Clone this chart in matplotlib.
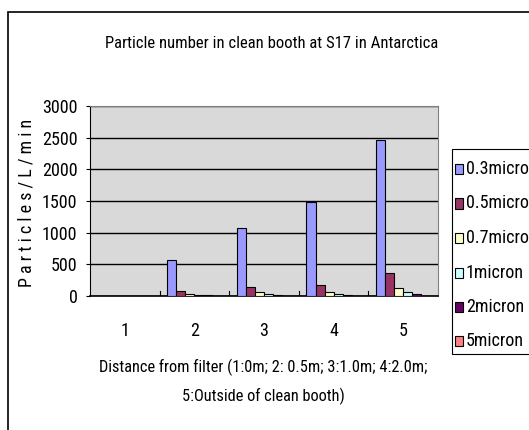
import matplotlib
matplotlib.use("Agg")
import matplotlib.pyplot as plt
import numpy as np
from matplotlib.patches import Rectangle
from matplotlib import font_manager

names = {f.name for f in font_manager.fontManager.ttflist}
FONT = 'DejaVu Sans'
for cand in ['Liberation Sans Narrow', 'Arial Narrow', 'Roboto Condensed', 'Archivo Narrow',
             'Barlow Condensed']:
    if cand in names:
        FONT = cand
        break
plt.rcParams['font.family'] = [FONT, 'DejaVu Sans']

categories = ['1', '2', '3', '4', '5']
series_names = ['0.3micron', '0.5micron', '0.7micron', '1micron', '2micron', '5micron']
v03 = [0, 570, 1080, 1490, 2460]
v05 = [0, 80, 150, 170, 360]
v07 = [0, 30, 60, 60, 120]
v1 = [0, 15, 30, 30, 60]
v2 = [0, 8, 12, 12, 30]
v5 = [0, 2, 3, 3, 5]
series = [v03, v05, v07, v1, v2, v5]
colors = ['#9999FF', '#993366', '#FFFFCC', '#CCFFFF', '#660066', '#FF8080']
yticks = [0, 500, 1000, 1500, 2000, 2500, 3000]

fig = plt.figure(figsize=(5.29, 4.30), dpi=100)
# chart border
fig.patches.append(Rectangle((8/529, -0.1), 1.2, 1 - 12/430 + 0.1, transform=fig.transFigure,
                             fill=False, edgecolor='black', linewidth=1.2))

ax = fig.add_axes([90/529, 1 - 296/430, 348/529, 190/430])
ax.set_facecolor('#D9D9D9')
x = np.arange(len(categories))
n = len(series)
gw = 0.78
w = gw / n
for i, (vals, c, nm) in enumerate(zip(series, colors, series_names)):
    ax.bar(x - gw / 2 + w * (i + 0.5), vals, width=w, color=c, edgecolor='black',
           linewidth=0.8, label=nm, zorder=3)

ax.set_xlim(-0.5, 4.5)
ax.set_ylim(0, 3000)
ax.set_yticks(yticks)
ax.set_yticklabels([str(t) for t in yticks], fontsize=13)
ax.yaxis.grid(True, color='black', linewidth=1.0, zorder=1)
ax.set_axisbelow(True)
ax.set_xticks(x)
ax.set_xticklabels(categories, fontsize=13)
ax.tick_params(axis='x', length=0, pad=19)
ax.tick_params(axis='y', length=3, direction='out', pad=6)
# category separator ticks
for b in np.arange(0.5, 4.5, 1.0):
    ax.plot([b, b], [0, 80], color='black', linewidth=0.8, zorder=2)
for s in ['top', 'right']:
    ax.spines[s].set_color('#808080')
ax.spines['left'].set_color('black')
ax.spines['bottom'].set_color('black')
ax.spines['bottom'].set_linewidth(1.2)

fig.text(272/529, 1 - 44/430, 'Particle number in clean booth at S17 in Antarctica',
         ha='center', va='center', fontsize=12)
fig.text(27/529, 1 - 203/430, 'P a r t i c l e s / L / m i n', rotation=90,
         ha='center', va='center', fontsize=13)
fig.text(263/529, 1 - 367/430, 'Distance from filter (1:0m; 2: 0.5m; 3:1.0m; 4:2.0m;',
         ha='center', va='center', fontsize=11.8)
fig.text(263/529, 1 - 396/430, '5:Outside of clean booth)',
         ha='center', va='center', fontsize=11.8)

# legend box
fig.patches.append(Rectangle((452/529, 1 - 354/430), 0.3, 205/430, transform=fig.transFigure,
                             fill=True, facecolor='white', edgecolor='black', linewidth=0.8))
ys = [169, 203.5, 238, 272.5, 307, 341]
for yy, c, nm in zip(ys, colors, series_names):
    fig.patches.append(Rectangle((455/529, 1 - (yy + 5) / 430), 8/529, 10/430,
                                 transform=fig.transFigure, facecolor=c,
                                 edgecolor='black', linewidth=0.8))
    fig.text(466/529, 1 - yy/430, nm, ha='left', va='center', fontsize=13)

fig.savefig('out.png', dpi=100)
